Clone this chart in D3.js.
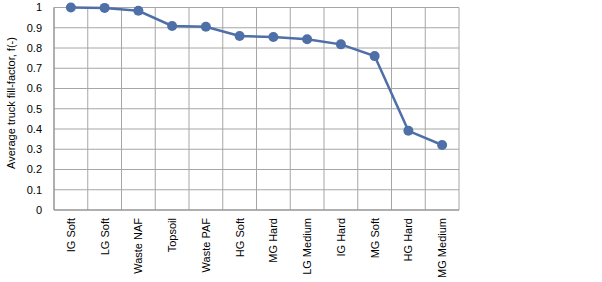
<!DOCTYPE html>
<html><head><meta charset="utf-8">
<script src="https://cdn.jsdelivr.net/npm/d3@7"></script>
<style>body{margin:0;background:#fff}svg{display:block}text{font-family:"Liberation Sans",Arial,sans-serif;fill:#000}</style>
</head><body><svg id="c" width="602" height="282"></svg>
<script>
const categories = ["IG Soft","LG Soft","Waste NAF","Topsoil","Waste PAF","HG Soft","MG Hard","LG Medium","IG Hard","MG Soft","HG Hard","MG Medium"];
const values = [1.0, 0.998, 0.984, 0.909, 0.905, 0.859, 0.854, 0.843, 0.818, 0.760, 0.391, 0.321];
const yTicks = [0,0.1,0.2,0.3,0.4,0.5,0.6,0.7,0.8,0.9,1];
const yTitle = "Average truck fill-factor, f(-)";

const svg = d3.select("#c");
const L=54, R=459, T=7.5, B=210;
const x = d3.scaleBand().domain(categories).range([L,R]);
const y = d3.scaleLinear().domain([0,1]).range([B,T]);
const grid = "#a6a6a6";
svg.append("g").selectAll("line").data(yTicks).join("line")
  .attr("x1",L).attr("x2",R).attr("y1",d=>y(d)).attr("y2",d=>y(d))
  .attr("stroke",grid).attr("stroke-width",1);
const bounds = categories.map(c=>x(c)).concat([R]);
svg.append("g").selectAll("line").data(bounds).join("line")
  .attr("x1",d=>d).attr("x2",d=>d).attr("y1",T).attr("y2",B)
  .attr("stroke",grid).attr("stroke-width",1);
svg.append("line").attr("x1",L).attr("x2",R).attr("y1",B).attr("y2",B).attr("stroke","#8c8c8c");
svg.append("line").attr("x1",L).attr("x2",L).attr("y1",T).attr("y2",B).attr("stroke","#8c8c8c");
svg.append("g").selectAll("text").data(yTicks).join("text")
  .attr("x",L-12).attr("y",d=>y(d)).attr("dy","0.35em").attr("text-anchor","end")
  .attr("font-size",11).text(d=>d3.format("~g")(d));
svg.append("g").selectAll("text").data(categories).join("text")
  .attr("transform",d=>`translate(${x(d)+x.bandwidth()/2+4},${B+8}) rotate(-90)`)
  .attr("text-anchor","end").attr("font-size",11).text(d=>d);
svg.append("text").attr("transform",`translate(15,103) rotate(-90)`)
  .attr("text-anchor","middle").attr("font-size",11).text(yTitle);
const color = "#4e6fa8";
const cx = d=>x(d)+x.bandwidth()/2;
svg.append("path").datum(values.map((v,i)=>[cx(categories[i]),y(v)]))
  .attr("d",d3.line()).attr("fill","none").attr("stroke",color).attr("stroke-width",2.5);
svg.append("g").selectAll("circle").data(values).join("circle")
  .attr("cx",(d,i)=>cx(categories[i])).attr("cy",d=>y(d)).attr("r",5).attr("fill",color);
</script></body></html>
